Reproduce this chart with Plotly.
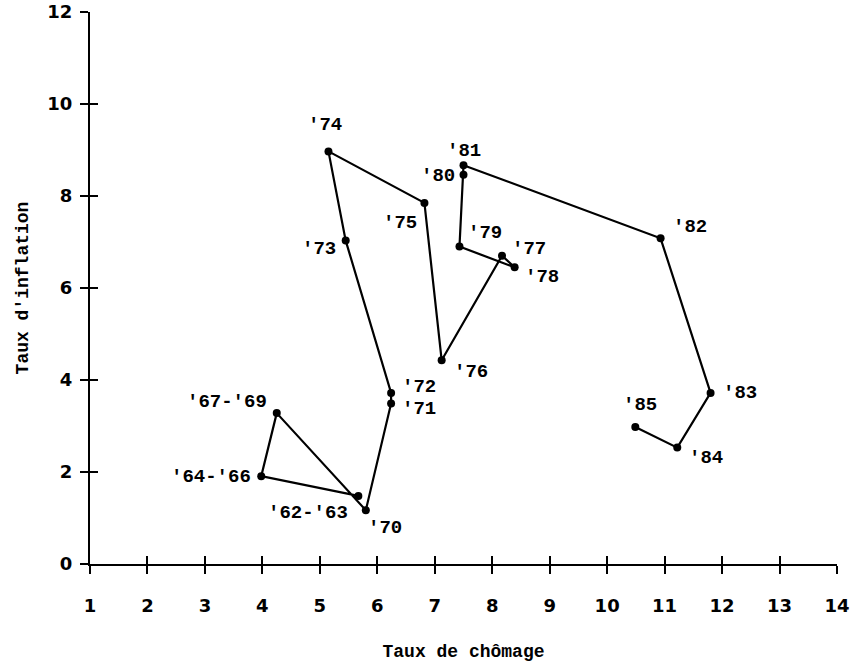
import plotly.graph_objects as go

# Data (unemployment rate, inflation rate)
labels = ["'62-'63", "'64-'66", "'67-'69", "'70", "'71", "'72", "'73", "'74", "'75",
          "'76", "'77", "'78", "'79", "'80", "'81", "'82", "'83", "'84", "'85"]
chomage = [5.67, 3.98, 4.25, 5.80, 6.24, 6.24, 5.45, 5.15, 6.82,
           7.12, 8.17, 8.39, 7.43, 7.50, 7.50, 10.93, 11.80, 11.22, 10.49]
inflation = [1.48, 1.91, 3.28, 1.17, 3.49, 3.72, 7.03, 8.97, 7.85,
             4.43, 6.70, 6.45, 6.90, 8.46, 8.67, 7.08, 3.72, 2.53, 2.98]

x_ticks = list(range(1, 15))
y_ticks = [0, 2, 4, 6, 8, 10, 12]

# label offsets in pixels (style)
label_dx = [-50, -50, -50, 19, 28, 28, -27, -3, -24, 29, 27, 27, 26, -26, 0, 29, 29, 29, 5]
label_dy = [-17, -1, 11, -18, -6, 6, -8, 26, -20, -12, 7, -10, 14, -1, 14, 11, 0, -10, 22]

fig = go.Figure()
fig.add_trace(go.Scatter(
    x=chomage, y=inflation, mode="lines+markers",
    line=dict(color="black", width=2.2),
    marker=dict(color="black", size=8),
    hoverinfo="skip", showlegend=False,
))
# invisible trace to hold the overlaid axes (for crossing ticks)
fig.add_trace(go.Scatter(x=[1], y=[0], xaxis="x2", yaxis="y2", mode="markers",
                         marker=dict(opacity=0), showlegend=False, hoverinfo="skip"))

lab_font = dict(family="Liberation Mono", size=19, color="black", weight="bold")
for lab, xv, yv, dx, dy in zip(labels, chomage, inflation, label_dx, label_dy):
    fig.add_annotation(x=xv, y=yv, text=lab, showarrow=False, xshift=dx, yshift=dy,
                       font=lab_font, xanchor="center", yanchor="middle")

tick_font = dict(family="DejaVu Sans", size=18, color="black", weight="bold")
title_font = dict(family="Liberation Mono", size=18, color="black", weight="bold")

fig.update_layout(
    width=852, height=671,
    margin=dict(l=90, r=15, t=12, b=107, autoexpand=False),
    plot_bgcolor="white", paper_bgcolor="white",
    xaxis=dict(range=[1, 14], tickvals=x_ticks, ticks="outside", ticklen=8, tickwidth=2,
               tickcolor="black", showline=True, linecolor="black", linewidth=2,
               showgrid=False, zeroline=False, tickfont=tick_font, ticklabelstandoff=16,
               automargin=False,
               title=dict(text="Taux de chômage", font=title_font, standoff=30)),
    yaxis=dict(range=[0, 12], tickvals=y_ticks, ticks="outside", ticklen=8, tickwidth=2,
               tickcolor="black", showline=True, linecolor="black", linewidth=2,
               showgrid=False, zeroline=False, tickfont=tick_font, ticklabelstandoff=4,
               automargin=False,
               title=dict(text="Taux d'inflation", font=title_font, standoff=14)),
    xaxis2=dict(range=[1, 14], tickvals=x_ticks, ticks="inside", ticklen=8, tickwidth=2,
                tickcolor="black", showline=False, showgrid=False, zeroline=False,
                showticklabels=False, overlaying="x", side="bottom", automargin=False),
    yaxis2=dict(range=[0, 12], tickvals=y_ticks, ticks="inside", ticklen=8, tickwidth=2,
                tickcolor="black", showline=False, showgrid=False, zeroline=False,
                showticklabels=False, overlaying="y", side="left", automargin=False),
)

fig.write_html("out.html")
